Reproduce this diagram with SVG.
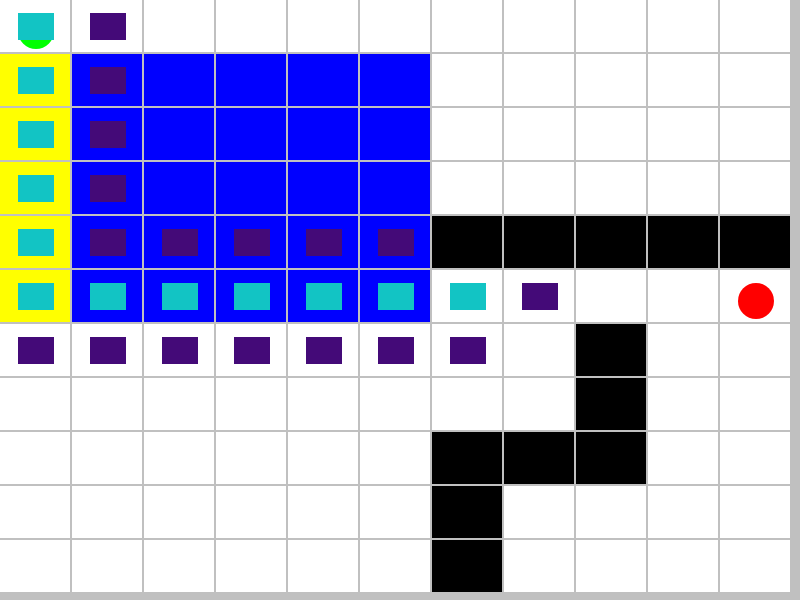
<svg xmlns="http://www.w3.org/2000/svg" width="800" height="600" viewBox="0 0 800 600">
<style>
.w{fill:#ffffff}.y{fill:#ffff00}.b{fill:#0000ff}.k{fill:#000000}
.c{fill:#12c4c4}.p{fill:#440a78}
</style>
<defs>
<rect id="cell" width="70" height="52"/>
<rect id="sq" x="18" y="13" width="36" height="27"/>
</defs>
<rect x="0" y="0" width="800" height="600" fill="#c0c0c0"/>
<g id="cells">
<!-- default white cells -->
<g class="w">
<rect x="0" y="0" width="790" height="592" fill="#c0c0c0"/>
</g>
</g>
<g id="grid">
<g id="row0" class="w">
<use href="#cell" x="0" y="0"/><use href="#cell" x="72" y="0"/><use href="#cell" x="144" y="0"/><use href="#cell" x="216" y="0"/><use href="#cell" x="288" y="0"/><use href="#cell" x="360" y="0"/><use href="#cell" x="432" y="0"/><use href="#cell" x="504" y="0"/><use href="#cell" x="576" y="0"/><use href="#cell" x="648" y="0"/><use href="#cell" x="720" y="0"/>
</g>
<g id="rows1to5">
<g class="y"><use href="#cell" x="0" y="54"/><use href="#cell" x="0" y="108"/><use href="#cell" x="0" y="162"/><use href="#cell" x="0" y="216"/><use href="#cell" x="0" y="270"/></g>
<g class="b">
<use href="#cell" x="72" y="54"/><use href="#cell" x="144" y="54"/><use href="#cell" x="216" y="54"/><use href="#cell" x="288" y="54"/><use href="#cell" x="360" y="54"/>
<use href="#cell" x="72" y="108"/><use href="#cell" x="144" y="108"/><use href="#cell" x="216" y="108"/><use href="#cell" x="288" y="108"/><use href="#cell" x="360" y="108"/>
<use href="#cell" x="72" y="162"/><use href="#cell" x="144" y="162"/><use href="#cell" x="216" y="162"/><use href="#cell" x="288" y="162"/><use href="#cell" x="360" y="162"/>
<use href="#cell" x="72" y="216"/><use href="#cell" x="144" y="216"/><use href="#cell" x="216" y="216"/><use href="#cell" x="288" y="216"/><use href="#cell" x="360" y="216"/>
<use href="#cell" x="72" y="270"/><use href="#cell" x="144" y="270"/><use href="#cell" x="216" y="270"/><use href="#cell" x="288" y="270"/><use href="#cell" x="360" y="270"/>
</g>
<g class="w">
<use href="#cell" x="432" y="54"/><use href="#cell" x="504" y="54"/><use href="#cell" x="576" y="54"/><use href="#cell" x="648" y="54"/><use href="#cell" x="720" y="54"/>
<use href="#cell" x="432" y="108"/><use href="#cell" x="504" y="108"/><use href="#cell" x="576" y="108"/><use href="#cell" x="648" y="108"/><use href="#cell" x="720" y="108"/>
<use href="#cell" x="432" y="162"/><use href="#cell" x="504" y="162"/><use href="#cell" x="576" y="162"/><use href="#cell" x="648" y="162"/><use href="#cell" x="720" y="162"/>
<use href="#cell" x="432" y="270"/><use href="#cell" x="504" y="270"/><use href="#cell" x="576" y="270"/><use href="#cell" x="648" y="270"/><use href="#cell" x="720" y="270"/>
</g>
<g class="k">
<use href="#cell" x="432" y="216"/><use href="#cell" x="504" y="216"/><use href="#cell" x="576" y="216"/><use href="#cell" x="648" y="216"/><use href="#cell" x="720" y="216"/>
</g>
</g>
<g id="rows6to10">
<g class="w">
<use href="#cell" x="0" y="324"/><use href="#cell" x="72" y="324"/><use href="#cell" x="144" y="324"/><use href="#cell" x="216" y="324"/><use href="#cell" x="288" y="324"/><use href="#cell" x="360" y="324"/><use href="#cell" x="432" y="324"/><use href="#cell" x="504" y="324"/><use href="#cell" x="648" y="324"/><use href="#cell" x="720" y="324"/>
<use href="#cell" x="0" y="378"/><use href="#cell" x="72" y="378"/><use href="#cell" x="144" y="378"/><use href="#cell" x="216" y="378"/><use href="#cell" x="288" y="378"/><use href="#cell" x="360" y="378"/><use href="#cell" x="432" y="378"/><use href="#cell" x="504" y="378"/><use href="#cell" x="648" y="378"/><use href="#cell" x="720" y="378"/>
<use href="#cell" x="0" y="432"/><use href="#cell" x="72" y="432"/><use href="#cell" x="144" y="432"/><use href="#cell" x="216" y="432"/><use href="#cell" x="288" y="432"/><use href="#cell" x="360" y="432"/><use href="#cell" x="648" y="432"/><use href="#cell" x="720" y="432"/>
<use href="#cell" x="0" y="486"/><use href="#cell" x="72" y="486"/><use href="#cell" x="144" y="486"/><use href="#cell" x="216" y="486"/><use href="#cell" x="288" y="486"/><use href="#cell" x="360" y="486"/><use href="#cell" x="504" y="486"/><use href="#cell" x="576" y="486"/><use href="#cell" x="648" y="486"/><use href="#cell" x="720" y="486"/>
<use href="#cell" x="0" y="540"/><use href="#cell" x="72" y="540"/><use href="#cell" x="144" y="540"/><use href="#cell" x="216" y="540"/><use href="#cell" x="288" y="540"/><use href="#cell" x="360" y="540"/><use href="#cell" x="504" y="540"/><use href="#cell" x="576" y="540"/><use href="#cell" x="648" y="540"/><use href="#cell" x="720" y="540"/>
</g>
<g class="k">
<use href="#cell" x="576" y="324"/><use href="#cell" x="576" y="378"/>
<use href="#cell" x="432" y="432"/><use href="#cell" x="504" y="432"/><use href="#cell" x="576" y="432"/>
<use href="#cell" x="432" y="486"/><use href="#cell" x="432" y="540"/>
</g>
</g>
</g>
<g id="circles">
<circle cx="36" cy="31" r="18" fill="#00ff00"/>
<circle cx="756" cy="301" r="18" fill="#ff0000"/>
</g>
<g id="cyan-blocks" class="c">
<use href="#sq" x="0" y="0"/><use href="#sq" x="0" y="54"/><use href="#sq" x="0" y="108"/><use href="#sq" x="0" y="162"/><use href="#sq" x="0" y="216"/><use href="#sq" x="0" y="270"/>
<use href="#sq" x="72" y="270"/><use href="#sq" x="144" y="270"/><use href="#sq" x="216" y="270"/><use href="#sq" x="288" y="270"/><use href="#sq" x="360" y="270"/><use href="#sq" x="432" y="270"/>
</g>
<g id="purple-blocks" class="p">
<use href="#sq" x="72" y="0"/><use href="#sq" x="72" y="54"/><use href="#sq" x="72" y="108"/><use href="#sq" x="72" y="162"/>
<use href="#sq" x="72" y="216"/><use href="#sq" x="144" y="216"/><use href="#sq" x="216" y="216"/><use href="#sq" x="288" y="216"/><use href="#sq" x="360" y="216"/>
<use href="#sq" x="504" y="270"/>
<use href="#sq" x="0" y="324"/><use href="#sq" x="72" y="324"/><use href="#sq" x="144" y="324"/><use href="#sq" x="216" y="324"/><use href="#sq" x="288" y="324"/><use href="#sq" x="360" y="324"/><use href="#sq" x="432" y="324"/>
</g>
</svg>
